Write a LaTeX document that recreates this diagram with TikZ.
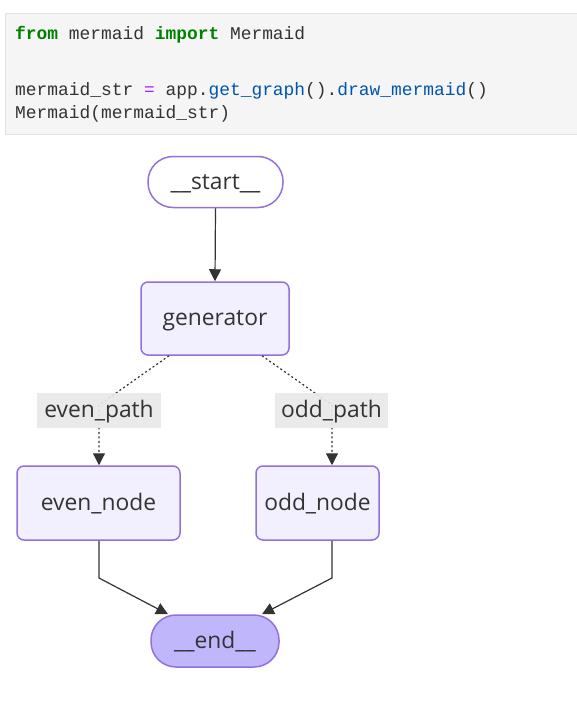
\documentclass[tikz,border=0pt]{standalone}
\usepackage{fontspec}
\setmainfont{Open Sans}
\setmonofont{Liberation Mono}
\usetikzlibrary{arrows.meta,calc}
\definecolor{mborder}{HTML}{9370DB}
\definecolor{mfill}{HTML}{F2F0FF}
\definecolor{mend}{HTML}{BFB6FC}
\definecolor{mtext}{HTML}{333333}
\definecolor{lblfill}{HTML}{E8E8E8}
\definecolor{codebg}{HTML}{F5F5F5}
\definecolor{codeborder}{HTML}{E0E0E0}
\definecolor{kwgreen}{HTML}{008000}
\definecolor{oppurple}{HTML}{AA22FF}
\definecolor{fnblue}{HTML}{0055AA}
\tikzset{
  nodefont/.style={text=mtext, font=\fontsize{22.8}{26}\selectfont, text height=18pt, text depth=4pt},
  box/.style={draw=mborder, line width=1.5pt, fill=mfill, rounded corners=7pt, nodefont, inner sep=0pt},
  stadium/.style={draw=mborder, line width=1.5pt, rounded corners=25pt, nodefont, inner sep=0pt, minimum height=51pt},
  lbl/.style={fill=lblfill, fill opacity=0.92, text opacity=1, nodefont, inner sep=0pt, minimum height=35pt},
  edge/.style={draw=mtext, line width=1.2pt, -{Triangle[length=12pt,width=12pt]}},
  dotedge/.style={edge, dash pattern=on 2pt off 2.5pt},
  code/.style={anchor=base west, font=\ttfamily\fontsize{17.9}{20}\selectfont, text=black!80, inner sep=0pt}
}
\begin{document}
\begin{tikzpicture}[x=1pt,y=-1pt]
\useasboundingbox (0,0) rectangle (577,709);
% code cell
\node[draw=codeborder, fill=codebg, line width=1pt, minimum width=572pt, minimum height=121pt, anchor=north west, inner sep=0pt] (cell) at (5,13) {};
\node[code] (l1) at (15,40) {\textcolor{kwgreen}{\bfseries from} mermaid \textcolor{kwgreen}{\bfseries import} Mermaid};
\node[code] (l3) at (15,95) {mermaid\_str \textcolor{oppurple}{=} app.\textcolor{fnblue}{get\_graph}().\textcolor{fnblue}{draw\_mermaid}()};
\node[code] (l4) at (15,118) {Mermaid(mermaid\_str)};
% nodes
\node[stadium, fill=white, minimum width=135pt] (start) at (215.5,182) {\_\_start\_\_};
\node[box, minimum width=148pt, minimum height=73pt] (gen) at (215,318.5) {generator};
\node[box, minimum width=163pt, minimum height=74pt] (even) at (98.5,503) {even\_node};
\node[box, minimum width=123pt, minimum height=74pt] (odd) at (317.5,503) {odd\_node};
\node[stadium, fill=mend, minimum width=128pt, minimum height=52pt] (endn) at (215,641) {\_\_end\_\_};
% edges
\draw[edge] (start.south) -- (gen.north);
\coordinate (eb) at (99,405);
\coordinate (ob) at (332,405);
\draw[dotedge] ([xshift=-46pt]gen.south) -- (eb) -- (even.north -| eb);
\draw[dotedge] ([xshift=47pt]gen.south) -- (ob) -- (odd.north -| ob);
\coordinate (ee) at (99,578);
\coordinate (oe) at (332,578);
\draw[edge] (even.south -| ee) -- (ee) -- ([xshift=-47pt]endn.north);
\draw[edge] (odd.south -| oe) -- (oe) -- ([xshift=47pt]endn.north);
% labels
\node[lbl, minimum width=124pt] (le) at (99,410.5) {even\_path};
\node[lbl, minimum width=113pt] (lo) at (331.5,410.5) {odd\_path};
\end{tikzpicture}
\end{document}
